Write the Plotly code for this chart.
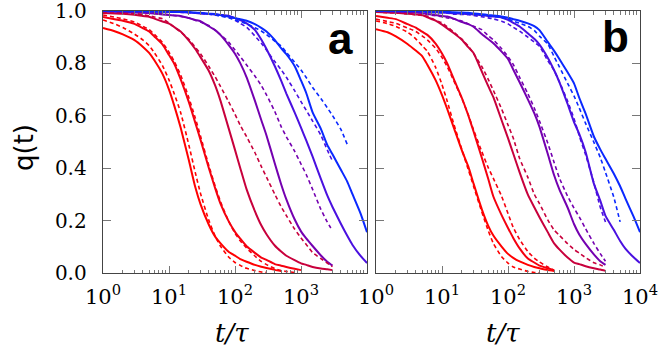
import plotly.graph_objects as go

# time grid (t/tau) shared by all curves
T = [1, 1.5, 2, 3, 4, 5, 6, 8, 10, 12, 15, 20, 25, 30, 40, 50, 60, 80, 100, 120,
     150, 200, 250, 300, 400, 500, 600, 800, 1000, 1200, 1500, 2000, 2500, 3000,
     4000, 5000, 6000, 8000, 10000]

def pad(v):
    return v + [None] * (len(T) - len(v))

# ---- panel a ----
a_red1_sim = [0.935, 0.923, 0.911, 0.889, 0.864, 0.840, 0.812, 0.759, 0.700, 0.639, 0.555, 0.430, 0.328, 0.263, 0.185, 0.139, 0.114, 0.081, 0.066, 0.053, 0.043, 0.031, 0.024, 0.019, 0.012, 0.008]
a_red1_fit = [0.966, 0.951, 0.937, 0.912, 0.890, 0.868, 0.841, 0.791, 0.737, 0.684, 0.613, 0.488, 0.384, 0.304, 0.202, 0.141, 0.103, 0.061, 0.040, 0.029, 0.018, 0.009, 0.004, 0.002]
a_red2_sim = [0.977, 0.969, 0.963, 0.951, 0.935, 0.922, 0.903, 0.872, 0.832, 0.799, 0.740, 0.652, 0.574, 0.509, 0.402, 0.324, 0.266, 0.198, 0.157, 0.131, 0.102, 0.077, 0.059, 0.050, 0.034, 0.028, 0.023, 0.016, 0.011]
a_red2_fit = [0.985, 0.977, 0.970, 0.958, 0.942, 0.929, 0.911, 0.879, 0.843, 0.808, 0.756, 0.669, 0.592, 0.523, 0.411, 0.332, 0.274, 0.198, 0.152, 0.123, 0.095, 0.065, 0.044, 0.032, 0.017, 0.009, 0.006, 0.002]
a_crim_sim = [0.992, 0.991, 0.990, 0.986, 0.981, 0.978, 0.971, 0.960, 0.952, 0.939, 0.922, 0.887, 0.855, 0.824, 0.772, 0.716, 0.659, 0.553, 0.470, 0.401, 0.319, 0.236, 0.182, 0.148, 0.105, 0.082, 0.066, 0.049, 0.037, 0.031, 0.023, 0.017, 0.014, 0.011]
a_crim_fit = [0.996, 0.994, 0.992, 0.990, 0.986, 0.982, 0.977, 0.970, 0.954, 0.939, 0.920, 0.892, 0.862, 0.837, 0.789, 0.749, 0.713, 0.654, 0.606, 0.564, 0.520, 0.460, 0.407, 0.366, 0.301, 0.253, 0.219, 0.168, 0.134, 0.109, 0.078, 0.055, 0.038, 0.024]
a_purp_sim = [0.998, 0.997, 0.996, 0.994, 0.993, 0.992, 0.990, 0.987, 0.985, 0.983, 0.981, 0.973, 0.966, 0.961, 0.942, 0.927, 0.909, 0.871, 0.837, 0.801, 0.747, 0.658, 0.584, 0.525, 0.419, 0.339, 0.281, 0.205, 0.159, 0.132, 0.103, 0.067, 0.043, 0.028]
a_purp_fit = [1.0, 0.998, 0.997, 0.996, 0.995, 0.994, 0.993, 0.990, 0.986, 0.983, 0.979, 0.974, 0.965, 0.958, 0.945, 0.927, 0.910, 0.882, 0.851, 0.826, 0.794, 0.752, 0.716, 0.680, 0.617, 0.559, 0.520, 0.465, 0.416, 0.376, 0.319, 0.243, 0.195, 0.161]
a_indi_sim = [1.0, 0.999, 0.999, 0.998, 0.998, 0.997, 0.997, 0.997, 0.996, 0.996, 0.996, 0.994, 0.992, 0.991, 0.989, 0.987, 0.985, 0.982, 0.973, 0.965, 0.953, 0.928, 0.891, 0.855, 0.790, 0.734, 0.685, 0.613, 0.555, 0.506, 0.444, 0.359, 0.296, 0.252, 0.189, 0.143, 0.108, 0.065, 0.038]
a_indi_fit = [1.0, 0.999, 0.999, 0.998, 0.998, 0.997, 0.997, 0.996, 0.996, 0.996, 0.995, 0.994, 0.992, 0.991, 0.989, 0.985, 0.982, 0.977, 0.965, 0.953, 0.938, 0.905, 0.877, 0.851, 0.807, 0.776, 0.747, 0.696, 0.654, 0.621, 0.580, 0.526, 0.470, 0.427]
a_blue_sim = [1.0, 1.0, 1.0, 0.999, 0.999, 0.998, 0.998, 0.997, 0.997, 0.996, 0.996, 0.996, 0.994, 0.993, 0.990, 0.989, 0.985, 0.979, 0.973, 0.969, 0.963, 0.950, 0.936, 0.922, 0.890, 0.858, 0.835, 0.790, 0.735, 0.687, 0.613, 0.550, 0.489, 0.453, 0.395, 0.350, 0.302, 0.227, 0.156]
a_blue_fit = [1.0, 1.0, 1.0, 0.999, 0.999, 0.998, 0.998, 0.997, 0.997, 0.996, 0.996, 0.995, 0.993, 0.992, 0.989, 0.985, 0.981, 0.974, 0.966, 0.959, 0.951, 0.936, 0.924, 0.910, 0.885, 0.866, 0.842, 0.805, 0.775, 0.746, 0.708, 0.666, 0.631, 0.601, 0.549, 0.492]

# ---- panel b ----
b_red1_sim = [0.931, 0.919, 0.903, 0.874, 0.849, 0.828, 0.795, 0.736, 0.679, 0.626, 0.557, 0.468, 0.407, 0.342, 0.244, 0.181, 0.143, 0.101, 0.073, 0.058, 0.044, 0.031, 0.023, 0.018, 0.011, 0.008]
b_red1_fit = [0.962, 0.952, 0.941, 0.919, 0.894, 0.868, 0.846, 0.785, 0.719, 0.656, 0.571, 0.471, 0.395, 0.332, 0.234, 0.163, 0.113, 0.062, 0.038, 0.023, 0.015, 0.006, 0.002, 0.0]
b_red2_sim = [0.981, 0.974, 0.969, 0.950, 0.937, 0.921, 0.909, 0.876, 0.838, 0.800, 0.742, 0.668, 0.602, 0.541, 0.441, 0.361, 0.292, 0.221, 0.172, 0.134, 0.094, 0.055, 0.040, 0.028, 0.018, 0.011]
b_red2_fit = [0.969, 0.960, 0.953, 0.935, 0.922, 0.905, 0.890, 0.858, 0.823, 0.788, 0.735, 0.666, 0.604, 0.547, 0.464, 0.403, 0.361, 0.293, 0.227, 0.174, 0.128, 0.082, 0.057, 0.042, 0.023, 0.010]
b_crim_sim = [0.996, 0.994, 0.993, 0.990, 0.987, 0.985, 0.976, 0.963, 0.948, 0.934, 0.916, 0.890, 0.862, 0.840, 0.770, 0.714, 0.671, 0.583, 0.515, 0.456, 0.384, 0.299, 0.251, 0.213, 0.156, 0.113, 0.090, 0.059, 0.040, 0.034, 0.026, 0.018, 0.013, 0.008]
b_crim_fit = [0.996, 0.994, 0.993, 0.989, 0.986, 0.983, 0.980, 0.964, 0.955, 0.940, 0.920, 0.893, 0.866, 0.838, 0.789, 0.740, 0.697, 0.626, 0.565, 0.515, 0.437, 0.365, 0.301, 0.265, 0.203, 0.164, 0.144, 0.112, 0.090, 0.076, 0.059, 0.039, 0.031, 0.021]
b_purp_sim = [0.998, 0.997, 0.997, 0.996, 0.994, 0.992, 0.989, 0.985, 0.981, 0.979, 0.971, 0.958, 0.950, 0.940, 0.912, 0.893, 0.877, 0.845, 0.817, 0.777, 0.728, 0.663, 0.610, 0.558, 0.455, 0.373, 0.319, 0.250, 0.187, 0.147, 0.111, 0.071, 0.045, 0.031]
b_purp_fit = [1.0, 0.998, 0.997, 0.996, 0.995, 0.993, 0.987, 0.982, 0.978, 0.974, 0.970, 0.962, 0.951, 0.942, 0.929, 0.906, 0.890, 0.856, 0.826, 0.796, 0.747, 0.684, 0.630, 0.580, 0.496, 0.422, 0.363, 0.293, 0.248, 0.214, 0.169, 0.113, 0.074, 0.045]
b_indi_sim = [1.0, 1.0, 0.999, 0.999, 0.998, 0.998, 0.996, 0.995, 0.994, 0.993, 0.991, 0.990, 0.989, 0.987, 0.984, 0.981, 0.979, 0.975, 0.966, 0.955, 0.941, 0.915, 0.894, 0.872, 0.822, 0.774, 0.729, 0.645, 0.576, 0.531, 0.462, 0.341, 0.276, 0.218, 0.165, 0.122, 0.093, 0.060, 0.038]
b_indi_fit = [1.0, 1.0, 0.999, 0.999, 0.998, 0.998, 0.996, 0.995, 0.994, 0.993, 0.988, 0.987, 0.986, 0.983, 0.978, 0.974, 0.970, 0.961, 0.951, 0.938, 0.923, 0.900, 0.881, 0.865, 0.811, 0.773, 0.730, 0.656, 0.590, 0.524, 0.451, 0.345, 0.251, 0.195]
b_blue_sim = [1.0, 1.0, 1.0, 1.0, 1.0, 1.0, 0.999, 0.999, 0.998, 0.997, 0.995, 0.994, 0.993, 0.991, 0.988, 0.985, 0.983, 0.979, 0.974, 0.969, 0.963, 0.953, 0.942, 0.927, 0.882, 0.848, 0.817, 0.766, 0.724, 0.669, 0.608, 0.521, 0.472, 0.436, 0.380, 0.331, 0.285, 0.215, 0.156]
b_blue_fit = [1.0, 1.0, 1.0, 1.0, 0.999, 0.998, 0.996, 0.995, 0.994, 0.994, 0.993, 0.990, 0.989, 0.988, 0.984, 0.981, 0.979, 0.975, 0.969, 0.962, 0.953, 0.941, 0.926, 0.904, 0.874, 0.826, 0.787, 0.724, 0.676, 0.630, 0.571, 0.499, 0.441, 0.384, 0.290, 0.195]

y_ticks = [0, 0.2, 0.4, 0.6, 0.8, 1.0]
y_ticktext = ["0.0", "0.2", "0.4", "0.6", "0.8", "1.0"]
x_ticks = [1, 10, 100, 1000, 10000]
x_ticktext = ["10<sup>0</sup>", "10<sup>1</sup>", "10<sup>2</sup>", "10<sup>3</sup>", "10<sup>4</sup>"]

colors = ["#ff0000", "#f5000f", "#c8003c", "#7400b0", "#4a10e0", "#0a28ff"]

panel_a = [(a_red1_sim, a_red1_fit), (a_red2_sim, a_red2_fit), (a_crim_sim, a_crim_fit),
           (a_purp_sim, a_purp_fit), (a_indi_sim, a_indi_fit), (a_blue_sim, a_blue_fit)]
panel_b = [(b_red1_sim, b_red1_fit), (b_red2_sim, b_red2_fit), (b_crim_sim, b_crim_fit),
           (b_purp_sim, b_purp_fit), (b_indi_sim, b_indi_fit), (b_blue_sim, b_blue_fit)]

fig = go.Figure()
for panel, (xa, ya) in ((panel_a, ("x", "y")), (panel_b, ("x2", "y2"))):
    for (sim, fit), col in zip(panel, colors):
        fig.add_trace(go.Scatter(x=T, y=pad(sim), mode="lines", xaxis=xa, yaxis=ya,
                                 line=dict(color=col, width=2, shape="spline", smoothing=0.5),
                                 showlegend=False, hoverinfo="skip"))
    for (sim, fit), col in zip(panel, colors):
        fig.add_trace(go.Scatter(x=T, y=pad(fit), mode="lines", xaxis=xa, yaxis=ya,
                                 line=dict(color=col, width=1.6, dash="4px,3px", shape="spline", smoothing=0.5),
                                 showlegend=False, hoverinfo="skip"))

minor_vals = [m * 10 ** k for k in range(4) for m in range(2, 10)]
serif = "DejaVu Serif"
W, H = 665, 355

def xax(domain, anchor, labels):
    return dict(type="log", range=[0, 4], domain=domain, anchor=anchor, automargin=False,
                showline=True, linecolor="#444", linewidth=1.3, mirror="allticks",
                ticks="inside", ticklen=7, tickcolor="#777", tickwidth=1,
                tickvals=x_ticks, ticktext=labels, ticklabeloverflow="allow",
                tickfont=dict(family=serif, size=21, color="black"),
                minor=dict(ticks="inside", ticklen=3.5, tickcolor="#777", tickvals=minor_vals, showgrid=False),
                showgrid=False, zeroline=False, ticklabelstandoff=4)

def yax(anchor, show):
    return dict(range=[0, 1.0001], domain=[0, 1], anchor=anchor, automargin=False,
                showline=True, linecolor="#444", linewidth=1.3, mirror="allticks",
                ticks="inside", ticklen=8, tickcolor="#777", tickwidth=1,
                tickvals=y_ticks, ticktext=y_ticktext, ticklabeloverflow="allow",
                showticklabels=show, tickfont=dict(family=serif, size=20, color="black"),
                showgrid=False, zeroline=False, ticklabelstandoff=11)

fig.update_layout(
    width=W, height=H, margin=dict(l=0, r=0, t=11, b=82, autoexpand=False),
    plot_bgcolor="white", paper_bgcolor="white",
    xaxis=xax([103 / W, 367 / W], "y", x_ticktext[:4] + [""]),
    xaxis2=xax([376 / W, 640 / W], "y2", x_ticktext),
    yaxis=yax("x", True),
    yaxis2=yax("x2", False),
)

def py(p):
    return (273 - p) / 262

ann = [
    dict(x=24 / W, y=py(148), text="q(t)", textangle=-90, font=dict(family="DejaVu Sans", size=26, color="black")),
    dict(x=232 / W, y=py(333), text="<i>t/τ</i>", font=dict(family=serif, size=26, color="black")),
    dict(x=503 / W, y=py(333), text="<i>t/τ</i>", font=dict(family=serif, size=26, color="black")),
    dict(x=340 / W, y=py(38), text="<b>a</b>", font=dict(family="Liberation Sans", size=44, color="black")),
    dict(x=615 / W, y=py(36), text="<b>b</b>", font=dict(family="Liberation Sans", size=44, color="black")),
]
for a in ann:
    a.update(xref="paper", yref="paper", showarrow=False, xanchor="center", yanchor="middle")
fig.update_layout(annotations=ann)

fig.write_html("out.html", config={"displayModeBar": False, "staticPlot": True},
               post_script="document.body.style.margin='0';document.body.style.padding='0';")
